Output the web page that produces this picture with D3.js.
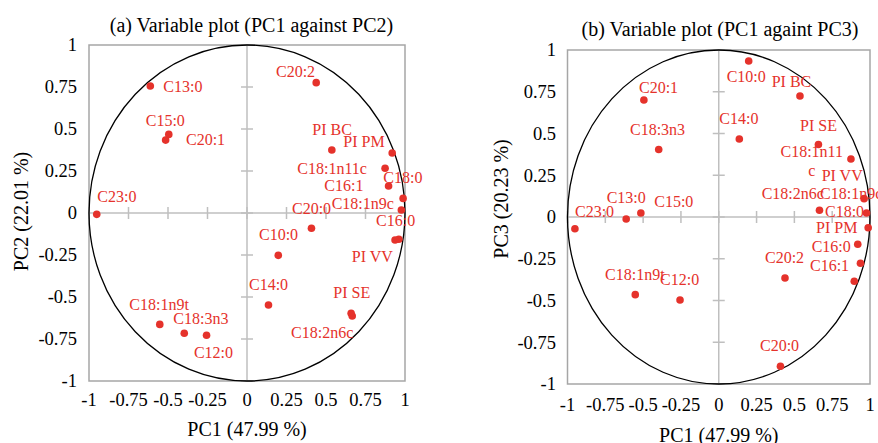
<!DOCTYPE html>
<html>
<head>
<meta charset="utf-8">
<script src="https://cdn.jsdelivr.net/npm/d3@7"></script>
<style>
  body { margin: 0; background: #fff; }
  svg { display: block; font-family: "Liberation Serif", "Times New Roman", serif; }
</style>
</head>
<body>
<div id="chart"></div>
<script>
// loadings
const variables = ["C10:0", "C12:0", "C13:0", "C14:0", "C15:0", "C16:0", "C16:1", "C18:0",
  "C18:1n9c", "C18:1n9t", "C18:1n11c", "C18:2n6c", "C18:3n3", "C20:0", "C20:1", "C20:2",
  "C23:0", "PI BC", "PI PM", "PI SE", "PI VV"];
const pc1 = [0.198, -0.256, -0.612, 0.136, -0.515, 0.961, 0.896, 0.988,
  0.977, -0.552, 0.874, 0.666, -0.397, 0.408, -0.495, 0.438,
  -0.951, 0.537, 0.919, 0.659, 0.937];
const pc2 = [-0.252, -0.728, 0.756, -0.548, 0.434, -0.156, 0.161, 0.087,
  0.018, -0.663, 0.266, -0.613, -0.716, -0.091, 0.468, 0.776,
  -0.008, 0.375, 0.357, -0.597, -0.161];
const pc3 = [0.934, -0.497, -0.012, 0.467, 0.024, 0.110, -0.385, -0.064,
  0.024, -0.465, 0.347, 0.040, 0.404, -0.894, 0.701, -0.365,
  -0.070, 0.725, -0.163, 0.434, -0.277];
const tickValues = [-1, -0.75, -0.5, -0.25, 0, 0.25, 0.5, 0.75, 1];

// label placement (pixel offsets from each point)
const labelOffsetA = {
  "C13:0": [13, 0.7], "C15:0": [-19.9, -20.1], "C20:1": [17.2, 4.9], "C20:2": [-40.2, -10.9],
  "PI BC": [-19.5, -20.7], "PI PM": [-48.9, -11.3], "C18:1n11c": [-87.8, 0], "C16:1": [-64.3, -1],
  "C18:0": [-19.8, -21.1], "C18:1n9c": [-69.7, -6.7], "C16:0": [-22.8, -18.5], "PI VV": [-43.3, 16.7],
  "C23:0": [0.6, -17.6], "C20:0": [-19.5, -20], "C10:0": [-19.3, -21], "C14:0": [-19.5, -21.1],
  "PI SE": [-17.8, -20.6], "C18:2n6c": [-61.2, 16.7], "C18:1n9t": [-30.5, -20.1],
  "C18:3n3": [-11, -14.6], "C12:0": [-12.6, 17]
};
const labelOffsetB = {
  "C10:0": [-22, 15.7], "PI BC": [-28.3, -14.2], "C20:1": [-4.9, -12.6], "C14:0": [-20, -20.7],
  "C18:3n3": [-28.7, -20.2], "PI SE": [-18.4, -19.5], "C18:1n11c": [-39.2, -7.4],
  "PI VV": [-38.8, -87.6], "C18:2n6c": [-57.8, -17], "C18:1n9c": [-46.5, -19.7],
  "C18:0": [-43.2, -16.7], "PI PM": [-41.7, -16.9], "C16:0": [-52.4, 47.4], "C16:1": [-44.3, -16.3],
  "C15:0": [13.4, -12], "C13:0": [-19.5, -21.3], "C23:0": [0.1, -17], "C20:2": [-20, -20.7],
  "C18:1n9t": [-30.2, -20.7], "C12:0": [-20, -21], "C20:0": [-20.5, -20.6]
};
const wrappedB = { "C18:1n11c": ["C18:1n11", "c"] };

const red = "#e5322b";
const W = 878, H = 443;

const svg = d3.select("#chart").append("svg")
  .attr("width", W)
  .attr("height", H);

function panel(opts) {
  const x = d3.scaleLinear().domain([-1, 1]).range(opts.xRange);
  const y = d3.scaleLinear().domain([-1, 1]).range(opts.yRange);
  const g = svg.append("g");

  // zero axes
  g.append("line")
    .attr("x1", x(-1)).attr("x2", x(1)).attr("y1", y(0)).attr("y2", y(0))
    .attr("stroke", "#bfbfbf").attr("stroke-width", 1.5);
  g.append("line")
    .attr("x1", x(0)).attr("x2", x(0)).attr("y1", y(-1)).attr("y2", y(1))
    .attr("stroke", "#bfbfbf").attr("stroke-width", 1.5);

  // crossing ticks
  g.selectAll(".xt").data(tickValues).enter().append("line")
    .attr("x1", d => x(d)).attr("x2", d => x(d))
    .attr("y1", y(0) - 6).attr("y2", y(0) + 6)
    .attr("stroke", "#bfbfbf").attr("stroke-width", 1.5);
  g.selectAll(".yt").data(tickValues).enter().append("line")
    .attr("y1", d => y(d)).attr("y2", d => y(d))
    .attr("x1", x(0) - 6).attr("x2", x(0) + 6)
    .attr("stroke", "#bfbfbf").attr("stroke-width", 1.5);

  // frame
  g.append("rect")
    .attr("x", x(-1)).attr("y", y(1))
    .attr("width", x(1) - x(-1)).attr("height", y(-1) - y(1))
    .attr("fill", "none").attr("stroke", "#a6a6a6").attr("stroke-width", 1.5);

  // unit circle
  g.append("ellipse")
    .attr("cx", x(0)).attr("cy", y(0))
    .attr("rx", x(1) - x(0)).attr("ry", y(0) - y(1))
    .attr("fill", "none").attr("stroke", "#000").attr("stroke-width", 1.3);

  // tick labels
  g.selectAll(".xl").data(tickValues).enter().append("text")
    .attr("x", d => x(d)).attr("y", opts.xLabelY)
    .attr("dy", "0.35em")
    .attr("text-anchor", "middle")
    .attr("font-size", "18.5px")
    .text(d => String(d));
  g.selectAll(".yl").data(tickValues).enter().append("text")
    .attr("x", opts.yLabelX).attr("y", d => y(d))
    .attr("dy", "0.35em")
    .attr("text-anchor", "end")
    .attr("font-size", "18.5px")
    .text(d => String(d));

  // axis titles
  g.append("text")
    .attr("x", x(0)).attr("y", opts.xTitleY)
    .attr("dy", "0.35em")
    .attr("text-anchor", "middle")
    .attr("font-size", "20px")
    .text(opts.xTitle);
  g.append("text")
    .attr("transform", `translate(${opts.yTitleX},${opts.yTitleY}) rotate(-90)`)
    .attr("dy", "0.35em")
    .attr("text-anchor", "middle")
    .attr("font-size", "20px")
    .text(opts.yTitle);
  g.append("text")
    .attr("x", opts.titleX).attr("y", opts.titleY)
    .attr("dy", "0.35em")
    .attr("text-anchor", "middle")
    .attr("font-size", "20px")
    .text(opts.title);

  const pts = variables.map((v, i) => ({ name: v, px: pc1[i], py: opts.ys[i] }));

  g.selectAll("circle.pt").data(pts).enter().append("circle")
    .attr("class", "pt")
    .attr("cx", d => x(d.px)).attr("cy", d => y(d.py))
    .attr("r", 3.8)
    .attr("fill", red);

  pts.forEach(d => {
    const off = opts.offsets[d.name];
    const lines = opts.wrapped[d.name];
    const t = g.append("text")
      .attr("font-size", "16px")
      .attr("fill", red);
    if (lines) {
      t.attr("text-anchor", "middle");
      lines.forEach((line, k) => {
        t.append("tspan")
          .attr("x", x(d.px) + off[0])
          .attr("y", y(d.py) + off[1] + k * 18.3)
          .attr("dy", "0.35em")
          .text(line);
      });
    } else {
      t.attr("x", x(d.px) + off[0])
        .attr("y", y(d.py) + off[1])
        .attr("dy", "0.35em")
        .text(d.name);
    }
  });
}

panel({
  xRange: [89, 405], yRange: [381, 45], ys: pc2,
  offsets: labelOffsetA, wrapped: {},
  xLabelY: 400, yLabelX: 77, xTitleY: 429, yTitleX: 21, yTitleY: 211.5,
  xTitle: "PC1 (47.99 %)", yTitle: "PC2 (22.01 %)",
  title: "(a) Variable plot (PC1 against PC2)", titleX: 251.5, titleY: 25
});

panel({
  xRange: [567.5, 870], yRange: [384, 50], ys: pc3,
  offsets: labelOffsetB, wrapped: wrappedB,
  xLabelY: 405, yLabelX: 556, xTitleY: 435, yTitleX: 501, yTitleY: 199,
  xTitle: "PC1 (47.99 %)", yTitle: "PC3 (20.23 %)",
  title: "(b) Variable plot (PC1 againt PC3)", titleX: 720, titleY: 29
});
</script>
</body>
</html>
